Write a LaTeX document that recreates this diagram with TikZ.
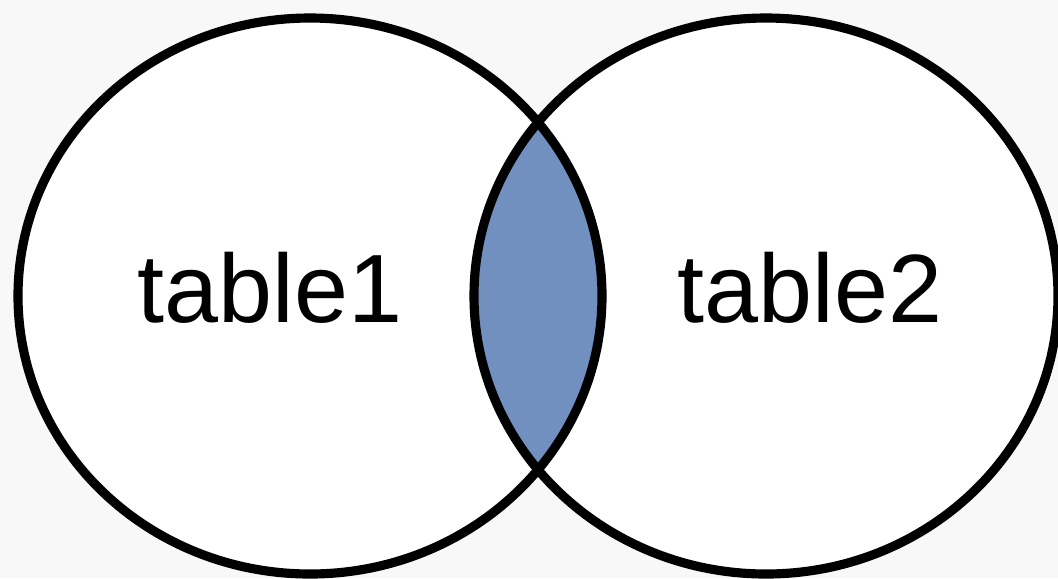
\documentclass[tikz,border=0pt]{standalone}
\usepackage{fontspec}
\setmainfont{Liberation Sans}
\usepackage{tikz}
\usetikzlibrary{positioning}
\definecolor{joinblue}{RGB}{113,144,192}
\definecolor{paper}{RGB}{248,248,248}
\tikzstyle{setline} = [draw=black, line width=2.6pt]
\tikzstyle{setfill} = [fill=white]
\tikzstyle{tablename} = [font=\fontsize{27.6pt}{33pt}\selectfont, inner sep=0pt, anchor=base]

\begin{document}
\begin{tikzpicture}[x=0.01cm, y=-0.01cm]
    % background
    \fill[paper] (0,0) rectangle (1058,578);
    \useasboundingbox (0,0) rectangle (1058,578);

    % centres of the two sets
    \coordinate (L) at (310,296);
    \coordinate (R) at (766,296);

    % white sets
    \path[setfill] (L) ellipse [x radius=292, y radius=278];
    \path[setfill] (R) ellipse [x radius=292, y radius=278];

    % the common part
    \begin{scope}
        \clip (L) ellipse [x radius=292, y radius=278];
        \fill[joinblue] (R) ellipse [x radius=292, y radius=278];
    \end{scope}

    % outlines
    \path[setline] (L) ellipse [x radius=292, y radius=278];
    \path[setline] (R) ellipse [x radius=292, y radius=278];

    \node[tablename] (t1) at (270,322) {table1};
    \node[tablename] (t2) at (810,322) {table2};
\end{tikzpicture}
\end{document}
